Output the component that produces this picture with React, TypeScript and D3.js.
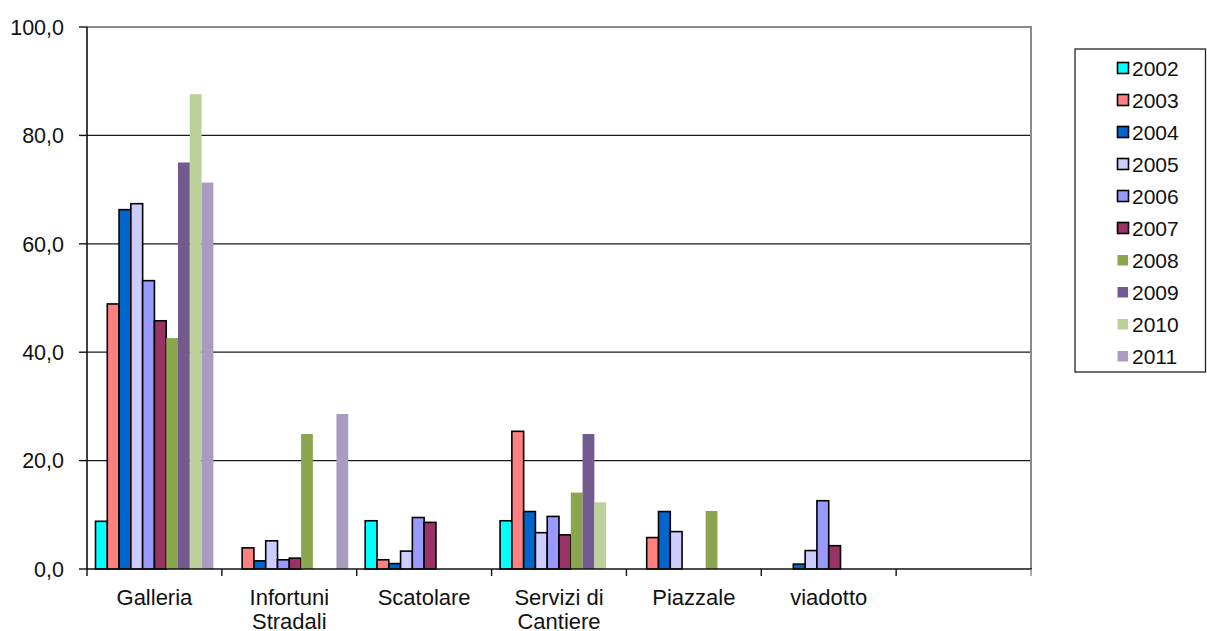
import React from "react";
import * as d3 from "d3";

const categories = ["Galleria", "Infortuni Stradali", "Scatolare", "Servizi di Cantiere", "Piazzale", "viadotto", ""];
const categoryLines = [["Galleria"], ["Infortuni", "Stradali"], ["Scatolare"], ["Servizi di", "Cantiere"], ["Piazzale"], ["viadotto"], []];
const years = ["2002", "2003", "2004", "2005", "2006", "2007", "2008", "2009", "2010", "2011"];
const colors = ["#00FFFF", "#FF8080", "#0066CC", "#CCCCFF", "#9999FF", "#993366", "#8AA64F", "#725A8F", "#BCD09A", "#AA9CC1"];
const outlined = [true, true, true, true, true, true, false, false, false, false];

const v2002 = [8.8, 0, 8.9, 8.9, 0, 0, 0];
const v2003 = [48.9, 3.9, 1.7, 25.4, 5.8, 0, 0];
const v2004 = [66.3, 1.5, 1.0, 10.6, 10.6, 0.9, 0];
const v2005 = [67.4, 5.2, 3.3, 6.7, 6.9, 3.4, 0];
const v2006 = [53.2, 1.7, 9.5, 9.7, 0, 12.6, 0];
const v2007 = [45.8, 2.0, 8.6, 6.3, 0, 4.3, 0];
const v2008 = [42.6, 24.9, 0, 14.1, 10.7, 0, 0];
const v2009 = [75.0, 0, 0, 24.9, 0, 0, 0];
const v2010 = [87.6, 0, 0, 12.3, 0, 0, 0];
const v2011 = [71.3, 28.6, 0, 0, 0, 0, 0];
const series = [v2002, v2003, v2004, v2005, v2006, v2007, v2008, v2009, v2010, v2011];

const yTicks = [0, 20, 40, 60, 80, 100];

const W = 1207;
const H = 631;
const left = 87;
const right = 1031;
const top = 27;
const bottom = 569;
const FONT = "'Liberation Sans', Arial, sans-serif";

export default function App() {
  const x0 = d3.scaleBand<string>().domain(categories.map((c, i) => String(i))).range([left, right]).padding(0);
  const x1 = d3.scaleBand<string>().domain(years).range([0, x0.bandwidth()]).paddingInner(0).paddingOuter(0.72);
  const y = d3.scaleLinear().domain([0, 100]).range([bottom, top]);
  const fmt = (v: number) => d3.format(".1f")(v).replace(".", ",");

  const boundaries = categories.map((_, i) => x0(String(i)) as number).concat([right]);

  return (
    <div style={{ position: "absolute", left: 0, top: 0 }}>
      <svg width={W} height={H} style={{ display: "block", background: "#fff" }} fontFamily={FONT}>
        <rect x={0} y={0} width={W} height={H} fill="#fff" />
        {/* gridlines */}
        {yTicks.filter((t) => t > 0 && t < 100).map((t) => (
          <line key={"g" + t} x1={left} x2={right} y1={y(t)} y2={y(t)} stroke="#1a1a1a" strokeWidth={1.2} />
        ))}
        {/* plot border top/right */}
        <line x1={left} x2={right + 1} y1={top} y2={top} stroke="#8a8a8a" strokeWidth={2} />
        <line x1={right} x2={right} y1={top} y2={bottom} stroke="#8a8a8a" strokeWidth={2} />

        {/* bars */}
        {series.map((vals, si) =>
          vals.map((v, ci) => {
            if (!v) return null;
            const bx = (x0(String(ci)) as number) + (x1(years[si]) as number);
            const bw = x1.bandwidth();
            return (
              <rect
                key={si + "-" + ci}
                x={bx}
                y={y(v)}
                width={bw}
                height={y(0) - y(v)}
                fill={colors[si]}
                stroke={outlined[si] ? "#000" : "none"}
                strokeWidth={outlined[si] ? 1.6 : 0}
              />
            );
          })
        )}

        {/* axes */}
        <line x1={left} x2={left} y1={top} y2={bottom + 1} stroke="#111" strokeWidth={1.6} />
        <line x1={left - 1} x2={right + 1} y1={bottom} y2={bottom} stroke="#111" strokeWidth={1.6} />
        {yTicks.map((t) => (
          <g key={"yt" + t}>
            <line x1={left - 8} x2={left} y1={y(t)} y2={y(t)} stroke="#111" strokeWidth={1.4} />
            <text x={64} y={y(t)} dy="0.36em" textAnchor="end" fontSize={21.5} fill="#111">
              {fmt(t)}
            </text>
          </g>
        ))}
        {boundaries.map((bx, i) => (
          <line key={"xt" + i} x1={bx} x2={bx} y1={bottom} y2={bottom + 7} stroke={i === boundaries.length - 1 ? "#8a8a8a" : "#111"} strokeWidth={1.4} />
        ))}
        {categoryLines.map((lines, ci) => {
          const cx = (x0(String(ci)) as number) + x0.bandwidth() / 2;
          return lines.map((ln, li) => (
            <text key={"cl" + ci + "-" + li} x={cx} y={605 + li * 24} textAnchor="middle" fontSize={22} fill="#111">
              {ln}
            </text>
          ));
        })}

        {/* legend */}
        <rect x={1075} y={49} width={130.5} height={323} fill="#fff" stroke="#222" strokeWidth={1.3} />
        {years.map((yr, i) => {
          const cy = 68 + i * 32;
          return (
            <g key={"lg" + yr}>
              {outlined[i] ? (
                <rect x={1117.5} y={cy - 5.5} width={11} height={11} fill={colors[i]} stroke="#000" strokeWidth={1.6} />
              ) : (
                <rect x={1117.5} y={cy - 5} width={10.5} height={10.5} fill={colors[i]} />
              )}
              <text x={1132} y={cy} dy="0.36em" fontSize={21} fill="#111">
                {yr}
              </text>
            </g>
          );
        })}
      </svg>
    </div>
  );
}
